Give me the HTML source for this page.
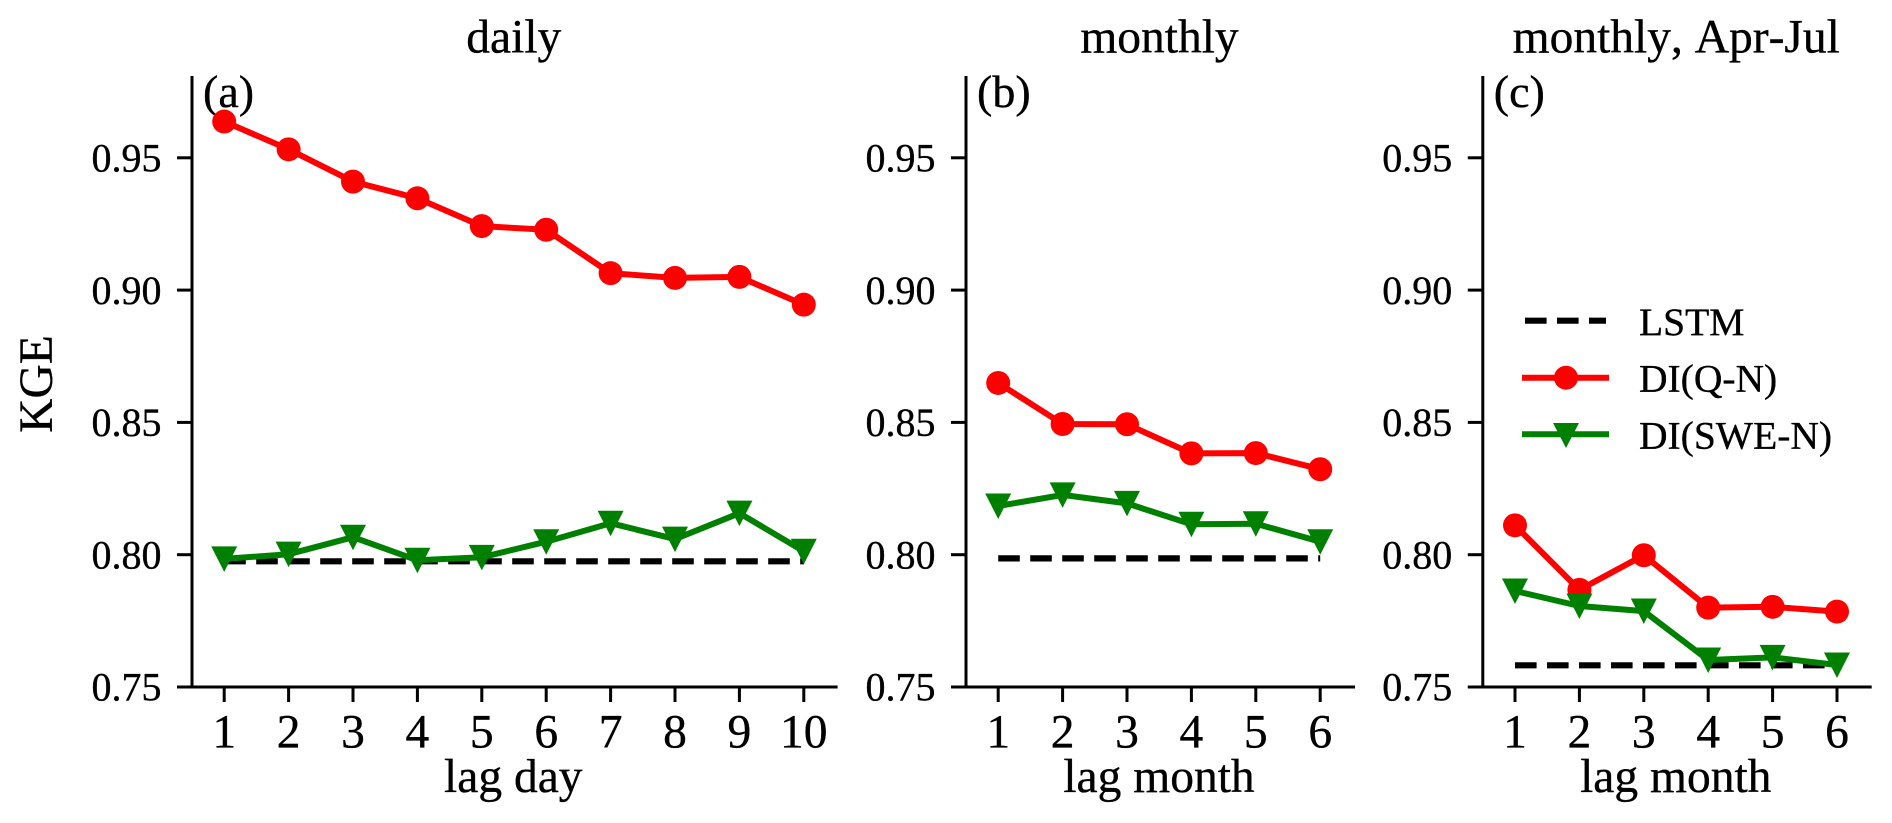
<!DOCTYPE html>
<html lang="en">
<head>
<meta charset="utf-8">
<title>KGE vs lag</title>
<style>
html,body{margin:0;padding:0;background:#fff;width:1892px;height:823px;overflow:hidden}
svg{display:block}
text{font-family:"Liberation Serif","Times New Roman",serif;fill:#000;stroke:#000;stroke-width:0.35px;font-kerning:none}
</style>
</head>
<body>
<svg id="chart" xmlns="http://www.w3.org/2000/svg" width="1892" height="823" viewBox="0 0 1892 823">
  <text transform="translate(52,384) rotate(-90)" text-anchor="middle" font-size="47.5">KGE</text>
  <g id="plots"></g>
  <g>
    <g>
      <line x1="1525" x2="1606" y1="320.7" y2="320.7" stroke="#000" stroke-width="6.2" stroke-dasharray="21.6 10.4"></line>
      <text x="1639" y="335" font-size="39.5">LSTM</text>
    </g>
    <g>
      <line x1="1525" x2="1606" y1="377.7" y2="377.7" stroke="#ff0000" stroke-width="6" stroke-linecap="square"></line>
      <circle cx="1566" cy="377.7" r="12" fill="#ff0000"></circle>
      <text x="1639" y="391.7" font-size="39.5">DI(Q-N)</text>
    </g>
    <g>
      <line x1="1525" x2="1606" y1="434.3" y2="434.3" stroke="#008000" stroke-width="6" stroke-linecap="square"></line>
      <polygon points="1553,423 1579,423 1566,448" fill="#008000"></polygon>
      <text x="1639" y="448.3" font-size="39.5">DI(SWE-N)</text>
    </g>
  </g>
</svg>
<script>
const dailyLags = [1, 2, 3, 4, 5, 6, 7, 8, 9, 10];
const monthlyLags = [1, 2, 3, 4, 5, 6];
const yTicks = [0.75, 0.80, 0.85, 0.90, 0.95];
const yTickLabels = ['0.75', '0.80', '0.85', '0.90', '0.95'];

const dailyLstm = [0.7975, 0.7975, 0.7975, 0.7975, 0.7975, 0.7975, 0.7975, 0.7975, 0.7975, 0.7975];
const dailyQ = [0.9637, 0.9532, 0.9410, 0.9347, 0.9242, 0.9228, 0.9064, 0.9046, 0.9050, 0.8945];
const dailySwe = [0.7984, 0.8002, 0.8066, 0.7979, 0.7990, 0.8049, 0.8119, 0.8059, 0.8157, 0.8013];

const monthlyLstm = [0.7986, 0.7986, 0.7986, 0.7986, 0.7986, 0.7986];
const monthlyQ = [0.8649, 0.8494, 0.8493, 0.8383, 0.8384, 0.8323];
const monthlySwe = [0.8184, 0.8226, 0.8194, 0.8115, 0.8117, 0.8049];

const seasonLstm = [0.7582, 0.7582, 0.7582, 0.7582, 0.7582, 0.7582];
const seasonQ = [0.8111, 0.7867, 0.7998, 0.7800, 0.7803, 0.7785];
const seasonSwe = [0.7863, 0.7806, 0.7787, 0.7602, 0.7612, 0.7583];

const panelNames = ['daily', 'monthly', 'season'];
const panelTitles = ['daily', 'monthly', 'monthly, Apr-Jul'];
const panelLetters = ['(a)', '(b)', '(c)'];
const panelXLabels = ['lag day', 'lag month', 'lag month'];

const SVGNS = 'http://www.w3.org/2000/svg';
const plots = document.getElementById('plots');
const layoutLeft = [192, 966, 1482.8];
const layoutRight = [837.6, 1355, 1871.7];
const lagGroups = [dailyLags, monthlyLags, monthlyLags];
const lstmGroups = [dailyLstm, monthlyLstm, seasonLstm];
const qGroups = [dailyQ, monthlyQ, seasonQ];
const sweGroups = [dailySwe, monthlySwe, seasonSwe];

const STEP = 64.4;
const Y0 = 687;
const YTOP = 76;
const PX_PER_UNIT = 132.3 / 0.05;

function yScale(v) {
  return Y0 - (v - 0.75) * PX_PER_UNIT;
}
function xScale(left, lag) {
  return left + (lag - 0.5) * STEP;
}
function make(tag, attrs, parent) {
  const el = document.createElementNS(SVGNS, tag);
  for (const k in attrs) el.setAttribute(k, attrs[k]);
  parent.appendChild(el);
  return el;
}
function pointsOf(left, lags, values) {
  return lags.map((lag, i) => xScale(left, lag).toFixed(1) + ',' + yScale(values[i]).toFixed(1)).join(' ');
}

panelNames.forEach((name, p) => {
  const left = layoutLeft[p];
  const right = layoutRight[p];
  const lags = lagGroups[p];

  const g = make('g', {}, plots);
  
  

  const title = make('text', { x: (left + right) / 2 - 1, y: 52.5, 'text-anchor': 'middle', 'font-size': 47.5 }, g);
  
  
  title.textContent = panelTitles[p];

  const xTitle = make('text', { x: (left + right) / 2 - 1.5, y: 792, 'text-anchor': 'middle', 'font-size': 47.5 }, g);
  
  
  xTitle.textContent = panelXLabels[p];

  const letter = make('text', { x: left + 11, y: 107, 'font-size': 46 }, g);
  
  
  letter.textContent = panelLetters[p];

  yTicks.forEach((t, i) => {
    const mark = make('line', { x1: left - 15, x2: left, y1: yScale(t), y2: yScale(t), stroke: '#000', 'stroke-width': 3 }, g);
    
    
    const label = make('text', { x: left - 30.5, y: yScale(t) + 13.7, 'text-anchor': 'end', 'font-size': 40 }, g);
    
    
    label.textContent = yTickLabels[i];
  });

  lags.forEach((lag) => {
    const x = xScale(left, lag);
    const mark = make('line', { x1: x, x2: x, y1: Y0, y2: Y0 + 15, stroke: '#000', 'stroke-width': 3 }, g);
    
    
    const label = make('text', { x: x, y: 747.7, 'text-anchor': 'middle', 'font-size': 47.5 }, g);
    
    
    label.textContent = String(lag);
  });

  const ySpine = make('line', { x1: left, x2: left, y1: YTOP, y2: Y0 + 1.5, stroke: '#000', 'stroke-width': 3 }, g);
  
  
  const xSpine = make('line', { x1: left - 1.5, x2: right, y1: Y0, y2: Y0, stroke: '#000', 'stroke-width': 3 }, g);
  
  

  const lstm = make('polyline', { points: pointsOf(left, lags, lstmGroups[p]), fill: 'none', stroke: '#000', 'stroke-width': 6.2, 'stroke-dasharray': '21.6 10.4' }, g);
  
  

  const qLine = make('polyline', { points: pointsOf(left, lags, qGroups[p]), fill: 'none', stroke: '#ff0000', 'stroke-width': 6, 'stroke-linejoin': 'round' }, g);
  
  
  lags.forEach((lag, i) => {
    const dot = make('circle', { cx: xScale(left, lag), cy: yScale(qGroups[p][i]), r: 12, fill: '#ff0000' }, g);
    
    
  });

  const sweLine = make('polyline', { points: pointsOf(left, lags, sweGroups[p]), fill: 'none', stroke: '#008000', 'stroke-width': 6, 'stroke-linejoin': 'round' }, g);
  
  
  lags.forEach((lag, i) => {
    const x = xScale(left, lag);
    const y = yScale(sweGroups[p][i]);
    const pts = (x - 13) + ',' + (y - 12.5) + ' ' + (x + 13) + ',' + (y - 12.5) + ' ' + x + ',' + (y + 13);
    const tri = make('polygon', { points: pts, fill: '#008000' }, g);
    
    
  });
});
</script>
</body>
</html>
